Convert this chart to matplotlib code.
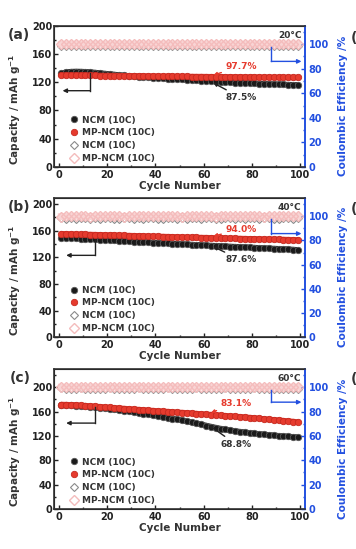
"""
Rate capability at 10C for NCM and MP-NCM at 20, 40 and 60 degC.
Capacity on the left axis, coulombic efficiency on the right (blue) axis.
"""

import matplotlib.pyplot as plt
from matplotlib.ticker import MultipleLocator

plt.rcParams["font.family"] = ["DejaVu Sans"]
plt.rcParams["font.weight"] = "bold"

# cycles sampled every second cycle
cycles = list(range(1, 100, 2))

# (a) 20 degC
cap_ncm_a = [132.6, 134.3, 135.0, 135.2, 135.1, 134.8, 134.3, 133.7, 133.0, 132.3,
             131.6, 130.9, 130.2, 129.6, 129.0, 128.4, 127.9, 127.4, 126.9, 126.4,
             125.9, 125.5, 125.1, 124.7, 124.3, 123.9, 123.5, 123.1, 122.7, 122.3,
             121.9, 121.5, 121.1, 120.7, 120.3, 120.0, 119.6, 119.3, 119.0, 118.7,
             118.4, 118.1, 117.8, 117.5, 117.3, 117.0, 116.8, 116.6, 116.4, 116.2]
cap_mp_a = [129.8, 129.9, 129.9, 129.8, 129.8, 129.7, 129.6, 129.6, 129.5, 129.4,
            129.4, 129.3, 129.2, 129.1, 129.1, 129.0, 128.9, 128.8, 128.8, 128.7,
            128.6, 128.5, 128.5, 128.4, 128.3, 128.3, 128.2, 128.1, 128.0, 128.0,
            127.9, 127.8, 127.8, 127.7, 127.6, 127.6, 127.5, 127.5, 127.4, 127.3,
            127.3, 127.2, 127.2, 127.1, 127.0, 127.0, 126.9, 126.9, 126.8, 126.8]
ce_ncm_a = [98.9, 98.5, 98.8, 98.6, 98.9, 98.4, 98.7, 98.8, 98.5, 98.7,
            98.9, 98.6, 98.4, 98.8, 98.7, 98.5, 98.9, 98.6, 98.7, 98.8,
            98.5, 98.6, 98.9, 98.7, 98.4, 98.8, 98.6, 98.7, 98.9, 98.5,
            98.7, 98.8, 98.6, 98.4, 98.9, 98.7, 98.5, 98.8, 98.6, 98.7,
            98.9, 98.5, 98.7, 98.8, 98.6, 98.4, 98.8, 98.7, 98.6, 98.8]
ce_mp_a = [99.9, 100.0, 99.8, 100.1, 99.9, 100.0, 99.9, 100.1, 100.0, 99.8,
           100.0, 99.9, 100.1, 99.9, 100.0, 99.8, 100.0, 100.1, 99.9, 100.0,
           99.9, 100.0, 100.1, 99.8, 100.0, 99.9, 100.0, 100.1, 99.9, 100.0,
           99.8, 100.0, 99.9, 100.1, 100.0, 99.9, 100.0, 99.8, 100.0, 100.1,
           99.9, 100.0, 99.9, 100.1, 100.0, 99.8, 100.0, 99.9, 100.0, 100.0]

# (b) 40 degC
cap_ncm_b = [149.8, 149.4, 149.0, 148.6, 148.2, 147.8, 147.4, 147.0, 146.6, 146.2,
             145.8, 145.4, 145.0, 144.6, 144.2, 143.8, 143.4, 143.0, 142.6, 142.2,
             141.8, 141.4, 141.1, 140.7, 140.3, 139.9, 139.6, 139.2, 138.8, 138.5,
             138.1, 137.7, 137.4, 137.0, 136.7, 136.3, 136.0, 135.6, 135.3, 134.9,
             134.6, 134.2, 133.9, 133.5, 133.2, 132.9, 132.6, 132.2, 131.7, 131.2]
cap_mp_b = [155.5, 155.3, 155.1, 154.9, 154.7, 154.5, 154.3, 154.1, 153.9, 153.7,
            153.5, 153.3, 153.1, 152.9, 152.7, 152.5, 152.3, 152.1, 151.9, 151.7,
            151.5, 151.3, 151.1, 150.9, 150.7, 150.5, 150.3, 150.1, 149.9, 149.7,
            149.6, 149.4, 149.2, 149.0, 148.8, 148.7, 148.5, 148.3, 148.1, 147.9,
            147.8, 147.6, 147.4, 147.3, 147.1, 146.9, 146.8, 146.6, 146.4, 146.2]
ce_ncm_b = [98.4, 98.1, 98.3, 98.0, 98.4, 98.2, 98.1, 98.3, 98.0, 98.2,
            98.4, 98.1, 98.0, 98.3, 98.2, 98.0, 98.4, 98.1, 98.2, 98.3,
            98.0, 98.1, 98.4, 98.2, 98.0, 98.3, 98.1, 98.2, 98.4, 98.0,
            98.2, 98.3, 98.1, 98.0, 98.4, 98.2, 98.0, 98.3, 98.1, 98.2,
            98.4, 98.0, 98.2, 98.3, 98.1, 98.0, 98.3, 98.2, 98.1, 98.3]
ce_mp_b = [99.8, 100.0, 99.9, 100.1, 99.9, 100.0, 99.8, 100.1, 100.0, 99.9,
           100.0, 99.9, 100.1, 99.8, 100.0, 99.9, 100.0, 100.1, 99.9, 100.0,
           99.9, 100.0, 100.1, 99.9, 100.0, 99.8, 100.0, 100.1, 99.9, 100.0,
           99.9, 100.0, 99.8, 100.1, 100.0, 99.9, 100.0, 99.9, 100.0, 100.1,
           99.9, 100.0, 99.8, 100.1, 100.0, 99.9, 100.0, 99.9, 100.0, 100.0]

# (c) 60 degC
cap_ncm_c = [171.0, 170.8, 170.4, 169.9, 169.3, 168.6, 167.8, 167.0, 166.2, 165.3,
             164.4, 163.4, 162.4, 161.3, 160.2, 159.1, 157.9, 156.7, 155.4, 154.1,
             152.8, 151.4, 150.0, 148.5, 147.0, 145.5, 143.9, 142.3, 140.6, 138.8,
             137.0, 135.2, 133.5, 131.9, 130.5, 129.2, 128.0, 126.9, 125.9, 124.9,
             124.0, 123.2, 122.4, 121.6, 120.9, 120.2, 119.6, 119.0, 118.4, 117.8]
cap_mp_c = [171.5, 171.3, 171.0, 170.6, 170.1, 169.6, 169.1, 168.5, 167.9, 167.3,
            166.7, 166.1, 165.5, 164.9, 164.3, 163.7, 163.2, 162.6, 162.0, 161.5,
            160.9, 160.4, 159.9, 159.3, 158.8, 158.3, 157.8, 157.2, 156.6, 156.0,
            155.5, 154.9, 154.3, 153.7, 153.1, 152.6, 152.0, 151.4, 150.8, 150.1,
            149.4, 148.6, 147.8, 147.1, 146.4, 145.7, 145.0, 144.3, 143.6, 142.7]
ce_ncm_c = [99.0, 98.7, 98.9, 98.6, 99.0, 98.8, 98.7, 98.9, 98.6, 98.8,
            99.0, 98.7, 98.6, 98.9, 98.8, 98.6, 99.0, 98.7, 98.8, 98.9,
            98.6, 98.7, 99.0, 98.8, 98.6, 98.9, 98.7, 98.8, 99.0, 98.6,
            98.8, 98.9, 98.7, 98.6, 99.0, 98.8, 98.6, 98.9, 98.7, 98.8,
            99.0, 98.6, 98.8, 98.9, 98.7, 98.6, 98.9, 98.8, 98.7, 98.9]
ce_mp_c = [100.0, 99.9, 100.1, 99.8, 100.0, 99.9, 100.0, 100.1, 99.9, 100.0,
           99.8, 100.0, 99.9, 100.1, 100.0, 99.9, 100.0, 99.8, 100.0, 100.1,
           99.9, 100.0, 99.9, 100.1, 100.0, 99.8, 100.0, 99.9, 100.0, 100.1,
           99.9, 100.0, 100.1, 99.8, 100.0, 99.9, 100.0, 100.1, 99.9, 100.0,
           99.8, 100.0, 99.9, 100.1, 100.0, 99.9, 100.0, 99.9, 100.0, 100.0]

labels = ["NCM (10C)", "MP-NCM (10C)", "NCM (10C)", "MP-NCM (10C)"]

BLUE = "#2350e0"
RED = "#e63b2e"
PINK = "#f4bcbc"
TXT = "#333333"


def draw_panel(ax, cap_ncm, cap_mp, ce_ncm, ce_mp, ylim_top, temp, tag,
               ncm_pct, mp_pct, bracket_left, bracket_right):
    ax2 = ax.twinx()

    # thick joining line so the dense markers read as a continuous band
    ax.plot(cycles, cap_ncm, "-", color="#1a1a1a", lw=4.0, solid_capstyle="round")
    ax.plot(cycles, cap_ncm, "o", ms=4.6, mfc="#1a1a1a", mec="#5a5a5a", mew=0.6, label=labels[0])
    ax.plot(cycles, cap_mp, "-", color=RED, lw=4.0, solid_capstyle="round")
    ax.plot(cycles, cap_mp, "o", ms=4.6, mfc=RED, mec="#c52a20", mew=0.6, label=labels[1])
    ax2.plot(cycles, ce_ncm, "D", ms=3.6, mfc="none", mec="#8a8a8a", mew=0.8, label=labels[2])
    ax2.plot(cycles, ce_mp, "-", color="#f8d4d4", lw=5.0)
    ax2.plot(cycles, ce_mp, "D", ms=5.2, mfc="none", mec=PINK, mew=1.0, label=labels[3])

    ax.set_xlim(-2, 102)
    ax.set_ylim(0, ylim_top)
    ax2.set_ylim(0, 115)

    ax.xaxis.set_major_locator(MultipleLocator(20))
    ax.xaxis.set_minor_locator(MultipleLocator(10))
    ax.yaxis.set_major_locator(MultipleLocator(40))
    ax.yaxis.set_minor_locator(MultipleLocator(20))
    ax2.yaxis.set_major_locator(MultipleLocator(20))
    ax2.yaxis.set_minor_locator(MultipleLocator(10))

    ax.tick_params(which="both", direction="in", labelsize=7, width=1, colors="#222222")
    ax.tick_params(which="major", length=3)
    ax.tick_params(which="minor", length=1.5)
    ax.tick_params(axis="x", which="both", top=False, pad=2)
    ax.tick_params(axis="y", pad=1.5)
    ax2.tick_params(which="both", direction="in", labelsize=7, width=1, colors=BLUE, pad=2.5)
    ax2.tick_params(which="major", length=3)
    ax2.tick_params(which="minor", length=1.5)

    for s in ["left", "top", "bottom"]:
        ax2.spines[s].set_color("#333333")
        ax2.spines[s].set_linewidth(1.2)
    ax2.spines["right"].set_color(BLUE)
    ax2.spines["right"].set_linewidth(1.4)
    ax.spines["right"].set_visible(False)

    ax.set_xlabel("Cycle Number", fontsize=7.5, fontweight="bold", color=TXT, labelpad=1)
    ax.set_ylabel("Capacity / mAh g$^{\\mathbf{-1}}$", fontsize=7.5, fontweight="bold",
                  color=TXT)
    ax.yaxis.set_label_coords(-0.125, 0.41)
    ax2.set_ylabel("Coulombic Efficiency /%", fontsize=7.5, fontweight="bold", color=BLUE)
    ax2.yaxis.set_label_coords(1.13, 0.43)

    ax.text(0.985, 0.93, temp, transform=ax.transAxes, ha="right", va="center",
            fontsize=6.5, fontweight="bold", color=TXT)
    ax.text(-0.095, 0.935, tag, transform=ax.transAxes, ha="right", va="center",
            fontsize=10, fontweight="bold", color=TXT)

    # brackets pointing to the axes each series belongs to
    bx, btop, bbot, bend = bracket_left
    ax.annotate("", xy=(bend, bbot), xytext=(bx, bbot),
                arrowprops=dict(arrowstyle="-|>", color="#222222", lw=1.0,
                                mutation_scale=6, shrinkA=0, shrinkB=0))
    ax.plot([bx, bx], [btop, bbot], color="#222222", lw=1.0)
    rx, rtop, rbot, rend = bracket_right
    ax2.annotate("", xy=(rend, rbot), xytext=(rx, rbot),
                 arrowprops=dict(arrowstyle="-|>", color=BLUE, lw=1.0,
                                 mutation_scale=6, shrinkA=0, shrinkB=0))
    ax2.plot([rx, rx], [rtop, rbot], color=BLUE, lw=1.0)

    # retention labels
    txt, xy, xyt = mp_pct
    ax.annotate(txt, xy=xy, xytext=xyt, fontsize=6.5, fontweight="bold", color=RED,
                ha="left", va="center",
                arrowprops=dict(arrowstyle="-|>", color=RED, lw=1.0, mutation_scale=5,
                                shrinkA=1, shrinkB=0))
    txt, xy, xyt = ncm_pct
    ax.annotate(txt, xy=xy, xytext=xyt, fontsize=6.5, fontweight="bold", color=TXT,
                ha="left", va="center",
                arrowprops=dict(arrowstyle="-|>", color="#222222", lw=1.0, mutation_scale=5,
                                shrinkA=1, shrinkB=0))

    h1, l1 = ax.get_legend_handles_labels()
    h2, l2 = ax2.get_legend_handles_labels()
    leg = ax2.legend(h1 + h2, l1 + l2, loc="lower left", bbox_to_anchor=(0.04, -0.01),
                     frameon=False, fontsize=6.5, handlelength=1.0, handletextpad=0.4,
                     labelspacing=0.42, borderaxespad=0.2)
    for t in leg.get_texts():
        t.set_color(TXT)
        t.set_fontweight("bold")
    return ax2


fig = plt.figure(figsize=(3.56, 5.49), dpi=100)

ax_a = fig.add_axes([0.152, 0.696, 0.705, 0.257])
draw_panel(ax_a, cap_ncm_a, cap_mp_a, ce_ncm_a, ce_mp_a, 200, "20°C", "(a)",
           ("87.5%", (64, 119), (69, 98)),
           ("97.7%", (64, 130), (69, 143)),
           (13, 133, 108, 1.5), (88, 98, 86, 100.5))

ax_b = fig.add_axes([0.152, 0.386, 0.705, 0.253])
draw_panel(ax_b, cap_ncm_b, cap_mp_b, ce_ncm_b, ce_mp_b, 209, "40°C", "(b)",
           ("87.6%", (64, 136), (69, 116)),
           ("94.0%", (64, 152), (69, 162)),
           (15, 146, 123, 3), (88, 98, 85.7, 100.5))

ax_c = fig.add_axes([0.152, 0.073, 0.705, 0.255])
draw_panel(ax_c, cap_ncm_c, cap_mp_c, ce_ncm_c, ce_mp_c, 230, "60°C", "(c)",
           ("68.8%", (62, 138), (67, 106)),
           ("83.1%", (63, 158), (67, 174)),
           (15, 167, 141, 3), (88, 98, 87.7, 100.5))

# cut-off labels of the neighbouring column
for y in [0.93, 0.62, 0.31]:
    fig.text(0.985, y, "(", fontsize=10, fontweight="bold", color=TXT, ha="left", va="center")

fig.savefig("out.png", dpi=100, facecolor="white")
